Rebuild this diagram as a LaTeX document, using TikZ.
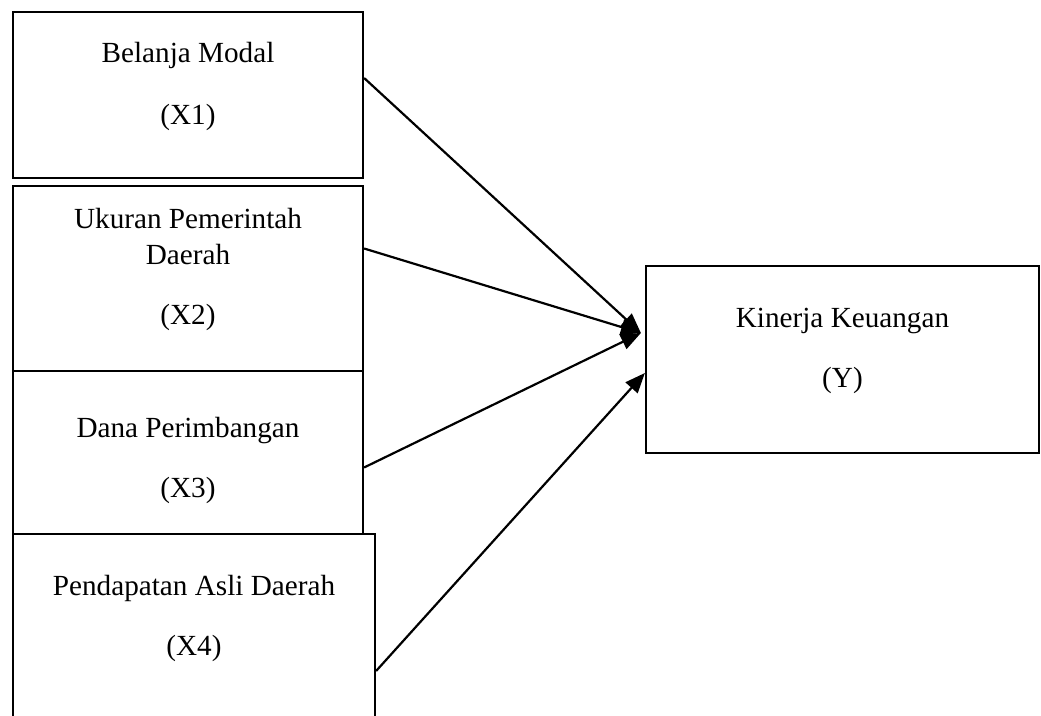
\documentclass[tikz,border=0pt]{standalone}
\usepackage{fontspec}
\setmainfont{Liberation Serif}
\usetikzlibrary{arrows.meta}

\begin{document}
\begin{tikzpicture}[x=0.5pt, y=-0.5pt,
		box/.style={draw, line width=1.1pt, fill=white, inner sep=0pt},
		txt/.style={align=center, yshift=4.5pt, font=\fontsize{14.6}{18}\selectfont},
		arr/.style={-{Triangle[length=10pt, width=8pt]}, line width=1.1pt}]
	\def\gap{12pt}
	\useasboundingbox (0,0) rectangle (1041,716);
	\clip (0,0) rectangle (1041,716);
	
	% variabel independen
	\node[box, minimum width=175pt, minimum height=83pt,
		label={[txt, name=t1]center:{Belanja Modal\\[13pt](X1)}}] (x1) at (188,95) {};
	\node[box, minimum width=175pt, minimum height=92.5pt,
		label={[txt, name=t2]center:{Ukuran Pemerintah\\Daerah\\[\gap](X2)}}] (x2) at (188,278.5) {};
	\node[box, minimum width=175pt, minimum height=98.5pt,
		label={[txt, name=t3]center:{Dana Perimbangan\\[\gap](X3)}}] (x3) at (188,469.5) {};
	\node[box, minimum width=181pt, minimum height=93pt,
		label={[txt, name=t4]center:{Pendapatan Asli Daerah\\[\gap](X4)}}] (x4) at (194,627) {};
	
	% variabel dependen
	\node[box, minimum width=196.5pt, minimum height=93.5pt,
		label={[txt, name=ty]center:{Kinerja Keuangan\\[\gap](Y)}}] (y) at (842.5,359.5) {};
	
	\draw[arr] ([yshift=8.5pt]x1.east) -- ([xshift=-2pt, yshift=13.25pt]y.west);
	\draw[arr] ([yshift=15pt]x2.east) -- ([xshift=-2pt, yshift=13.25pt]y.west);
	\draw[arr] ([yshift=1pt]x3.east) -- ([xshift=-2pt, yshift=13.25pt]y.west);
	\draw[arr] ([yshift=-22pt]x4.east) -- ([yshift=-6.75pt]y.west);
\end{tikzpicture}
\end{document}
